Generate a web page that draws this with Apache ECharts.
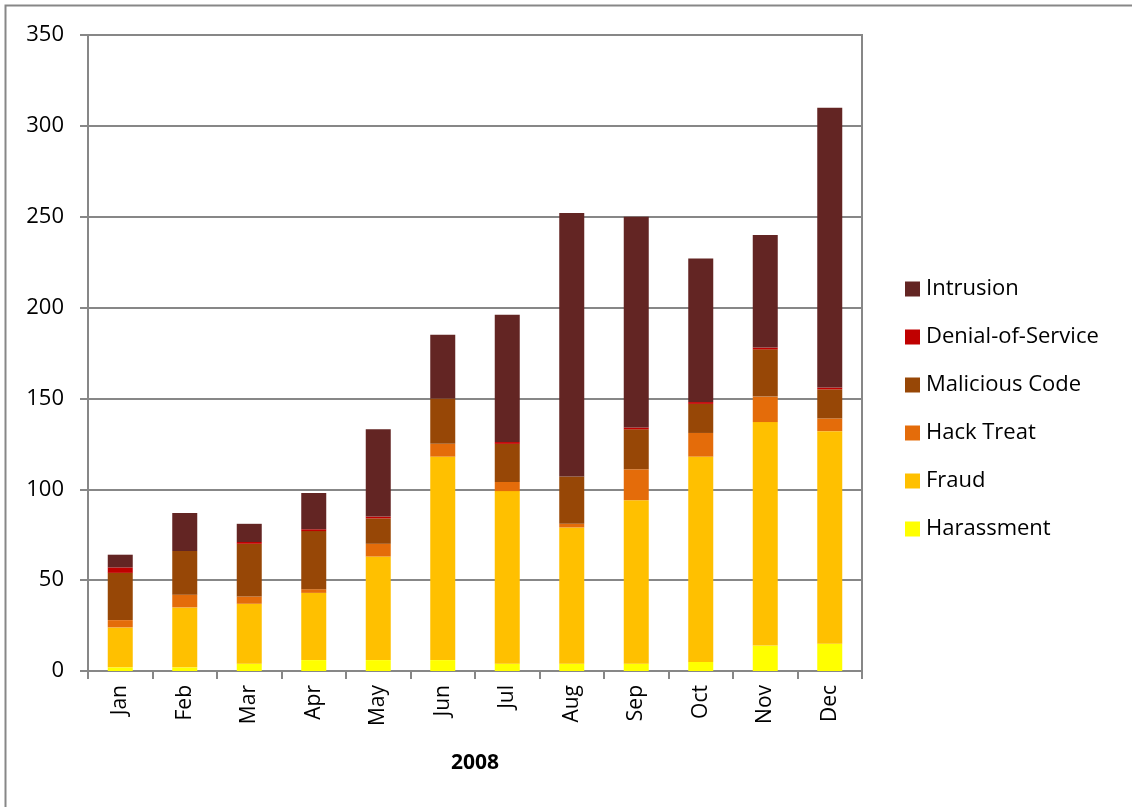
<!DOCTYPE html>
<html>
<head>
<meta charset="utf-8">
<script src="https://cdn.jsdelivr.net/npm/echarts@6/dist/echarts.min.js"></script>
<style>
  html, body { margin: 0; padding: 0; background: #fff; }
  #chart { width: 1132px; height: 807px; }
</style>
</head>
<body>
<div id="chart"></div>
<script>
// Monthly incident counts for 2008, by category
const months = ['Jan', 'Feb', 'Mar', 'Apr', 'May', 'Jun', 'Jul', 'Aug', 'Sep', 'Oct', 'Nov', 'Dec'];
const harassment    = [2, 2, 4, 6, 6, 6, 4, 4, 4, 5, 14, 15];
const fraud         = [22, 33, 33, 37, 57, 112, 95, 75, 90, 113, 123, 117];
const hackTreat     = [4, 7, 4, 2, 7, 7, 5, 2, 17, 13, 14, 7];
const maliciousCode = [26, 24, 29, 32, 14, 25, 21, 26, 22, 16, 26, 16];
const denialOfService = [3, 0, 1, 1, 1, 0, 1, 0, 1, 1, 1, 1];
const intrusion     = [7, 21, 10, 20, 48, 35, 70, 145, 116, 79, 62, 154];
const yTicks = { min: 0, max: 350, interval: 50 };
const xAxisTitle = '2008';

const seriesDefs = [
  { name: 'Harassment', data: harassment, color: '#FFFF00' },
  { name: 'Fraud', data: fraud, color: '#FFC000' },
  { name: 'Hack Treat', data: hackTreat, color: '#E46C0A' },
  { name: 'Malicious Code', data: maliciousCode, color: '#974706' },
  { name: 'Denial-of-Service', data: denialOfService, color: '#C00000' },
  { name: 'Intrusion', data: intrusion, color: '#632523' }
];

const FONT = '"Open Sans", "Liberation Sans", sans-serif';
const GRAY = '#878787';

const chart = echarts.init(document.getElementById('chart'), null, { renderer: 'canvas' });

chart.setOption({
  animation: false,
  backgroundColor: '#ffffff',
  graphic: [{
    type: 'rect',
    shape: { x: 5.5, y: 5.5, width: 1200, height: 900 },
    style: { fill: 'none', stroke: GRAY, lineWidth: 2 },
    silent: true
  }],
  grid: {
    left: 88, right: 270, top: 35, bottom: 136,
    show: true, borderColor: GRAY, borderWidth: 2, backgroundColor: 'transparent'
  },
  legend: {
    orient: 'vertical',
    left: 900,
    top: 273,
    itemWidth: 15,
    itemHeight: 15,
    itemGap: 26,
    icon: 'rect',
    data: seriesDefs.map(s => s.name).reverse(),
    textStyle: { fontFamily: FONT, fontSize: 22, lineHeight: 22, color: '#000', padding: [0, 0, 0, 1] }
  },
  xAxis: {
    type: 'category',
    data: months,
    name: xAxisTitle,
    nameLocation: 'middle',
    nameGap: 82,
    nameTextStyle: { fontFamily: FONT, fontSize: 21, fontWeight: 'bold', color: '#000' },
    axisLine: { lineStyle: { color: GRAY, width: 2 } },
    axisTick: { show: true, length: 8, inside: false, lineStyle: { color: GRAY, width: 2 } },
    axisLabel: { rotate: 90, margin: 14, fontFamily: FONT, fontSize: 21, color: '#000' }
  },
  yAxis: {
    type: 'value',
    min: yTicks.min, max: yTicks.max, interval: yTicks.interval,
    axisLine: { show: true, lineStyle: { color: GRAY, width: 2 } },
    axisTick: { show: true, length: 8, lineStyle: { color: GRAY, width: 2 } },
    splitLine: { show: true, lineStyle: { color: GRAY, width: 2 } },
    axisLabel: { margin: 24, fontFamily: FONT, fontSize: 22, color: '#000' }
  },
  series: seriesDefs.map(s => ({
    name: s.name,
    type: 'bar',
    stack: 'total',
    barWidth: 25,
    data: s.data,
    itemStyle: { color: s.color },
    emphasis: { disabled: true }
  }))
});
</script>
</body>
</html>
